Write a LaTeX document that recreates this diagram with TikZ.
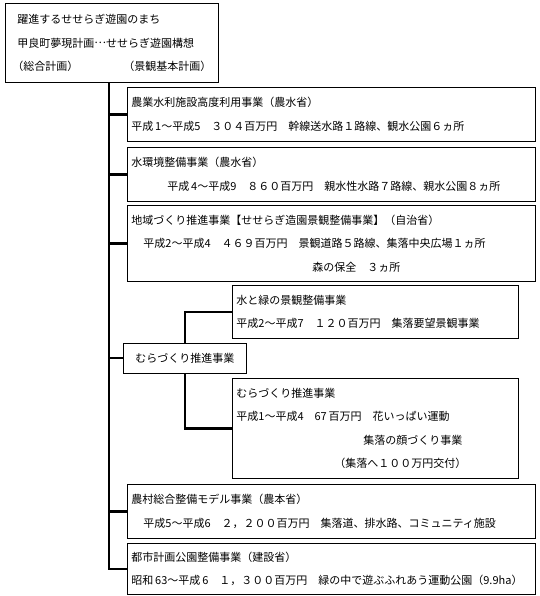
\documentclass[tikz,border=0pt]{standalone}
\usepackage{fontspec}
\setmainfont{Noto Sans CJK JP}
\usetikzlibrary{positioning}

\begin{document}
\begin{tikzpicture}[
  x=1pt, y=-1pt,
  font=\fontsize{11}{23.5}\selectfont,
  frame/.style={draw, line width=0.8pt, anchor=north west, align=left, inner xsep=4pt, inner ysep=0pt},
  wide/.style={frame, text width=400pt, minimum height=#1},
  narrow/.style={frame, text width=278pt, minimum height=#1},
  link/.style={line width=2.4pt}
]
\useasboundingbox (0,0) rectangle (539,596);

% plan at the top
\node[frame, text width=205pt, minimum height=79pt] (plan) at (5,3)
  {\hspace*{8pt}躍進するせせらぎ遊園のまち\\
   \hspace*{8pt}甲良町夢現計画\raisebox{0.35em}{…}せせらぎ遊園構想\\
   \hspace*{3pt}（総合計画）\hspace{45pt}（景観基本計画）};

% projects
\node[wide=54pt] (farm) at (127,87)
  {農業水利施設高度利用事業（農水省）\\
   平成\,1～平成5　３０４百万円　幹線送水路１路線、観水公園６ヵ所};
\node[wide=54pt] (water) at (127,147)
  {水環境整備事業（農水省）\\
   \hspace*{36pt}平成\,4～平成9　８６０百万円　親水性水路７路線、親水公園８ヵ所};
\node[wide=76pt] (region) at (127,205)
  {地域づくり推進事業【せせらぎ造園景観整備事業】（自治省）\\
   \hspace*{12pt}平成2～平成4　４６９百万円　景観道路５路線、集落中央広場１ヵ所\\
   \hspace*{181pt}森の保全　３ヵ所};
\node[narrow=53pt] (green) at (232,285)
  {水と緑の景観整備事業\\
   平成2～平成7　１２０百万円　集落要望景観事業};
\node[draw, line width=0.8pt, anchor=west, minimum width=123pt, minimum height=30pt, inner xsep=0pt] (mura) at (123,358)
  {むらづくり推進事業};
\node[narrow=100pt] (village) at (232,378)
  {むらづくり推進事業\\
   平成1～平成4　67\,百万円　花いっぱい運動\\
   \hspace*{127pt}集落の顔づくり事業\\
   \hspace*{98pt}（集落へ１００万円交付）};
\node[wide=54pt] (model) at (127,484)
  {農村総合整備モデル事業（農本省）\\
   \hspace*{12pt}平成5～平成6　２，２００百万円　集落道、排水路、コミュニティ施設};
\node[wide=51pt] (park) at (127,543)
  {都市計画公園整備事業（建設省）\\
   昭和\,63～平成\,6　１，３００百万円　緑の中で遊ぶふれあう運動公園（9.9ha）};

% connectors
\coordinate (spine) at (109,0);
\draw[link] (spine |- plan.south) |- (park.west);
\foreach \b in {farm,water,region,mura,model}
  \draw[link] (spine |- \b.west) -- (\b.west);
\draw[link] (mura.north) |- (green.west);
\draw[link] (mura.south) |- (village.west);
\end{tikzpicture}
\end{document}
